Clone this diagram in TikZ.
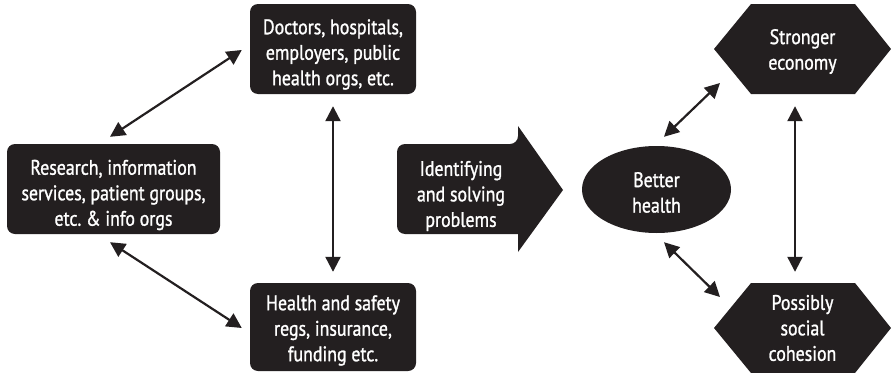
\documentclass[tikz,border=0pt]{standalone}
\usepackage{fontspec}
\setmainfont{PT Sans}[FakeStretch=0.85,FakeBold=1.2]
\usetikzlibrary{arrows.meta,calc,shapes.geometric}
\definecolor{boxc}{HTML}{231F20}
\frenchspacing
\tikzset{
  box/.style={fill=boxc, rounded corners=8pt,
    minimum width=166pt, minimum height=90pt, inner sep=0pt},
  lbl/.style={text=white, align=center, inner sep=0pt},
  lnk/.style={line width=2.2pt, draw=boxc,
    {Triangle[length=15pt,width=15pt]}-{Triangle[length=15pt,width=15pt]}},
  shapefill/.style={fill=boxc}
}
\begin{document}
\begin{tikzpicture}[x=1pt,y=-1pt,font=\fontsize{21}{25.5}\selectfont]
\useasboundingbox (0,0) rectangle (891,372);
% boxes
\node[box, minimum width=213pt] (left) at (113.5,189) {};
\node[lbl] (leftt) at (113.5,195) {Research, information\\services, patient groups,\\etc. \& info orgs};
\node[box] (top) at (333,49) {};
\node[lbl] (topt) at (333,54.5) {Doctors, hospitals,\\employers, public\\health orgs, etc.};
\node[box, minimum height=88pt] (bottom) at (333,327) {};
\node[lbl] (bottomt) at (333,330.5) {Health and safety\\regs, insurance,\\funding etc.};
% big arrow
\fill[shapefill] (518,144) -- (518,126) -- (563,190) -- (518,252) -- (518,234)
  [rounded corners=8pt] -- (397,234) -- (397,144) -- (518,144) -- cycle;
\node[lbl] (ident) at (461,196) {Identifying\\and solving\\problems};
% ellipse
\node[ellipse, fill=boxc, minimum width=149pt,
  minimum height=87pt, inner sep=0pt] (health) at (656.5,189.5) {};
\node[lbl] (healtht) at (656.5,192.5) {Better\\health};
% hexagons
\fill[shapefill] (714,49) -- (751,4) -- (855,4) -- (891,49) -- (855,94) -- (751,94) -- cycle;
\node[minimum width=177pt, minimum height=90pt, inner sep=0pt] (econ) at (802.5,49) {};
\node[lbl] (econt) at (802.5,51.5) {Stronger\\economy};
\fill[shapefill] (714,328) -- (751,283) -- (855,283) -- (891,328) -- (855,373) -- (751,373) -- cycle;
\node[minimum width=177pt, minimum height=90pt, inner sep=0pt] (soc) at (802.5,328) {};
\node[lbl] (soct) at (802.5,328) {Possibly\\social\\cohesion};
% connectors
\draw[lnk] ($(left.north)+(-3.5,-7)$) -- ($(top.west)+(-8,1)$);
\draw[lnk] ($(left.south)+(-3.5,8)$) -- ($(bottom.west)+(-8,1)$);
\draw[lnk] ($(top.south)+(0,12)$) -- ($(bottom.north)+(0,-11)$);
\draw[lnk] ($(health.north)+(7.5,-9)$) -- ($(econ.center)+(-82.5,34)$);
\draw[lnk] ($(health.south)+(7.5,9)$) -- ($(soc.center)+(-82.5,-31)$);
\draw[lnk] ($(econ.south)+(-7.5,12)$) -- ($(soc.north)+(-7.5,-11)$);
\end{tikzpicture}
\end{document}
